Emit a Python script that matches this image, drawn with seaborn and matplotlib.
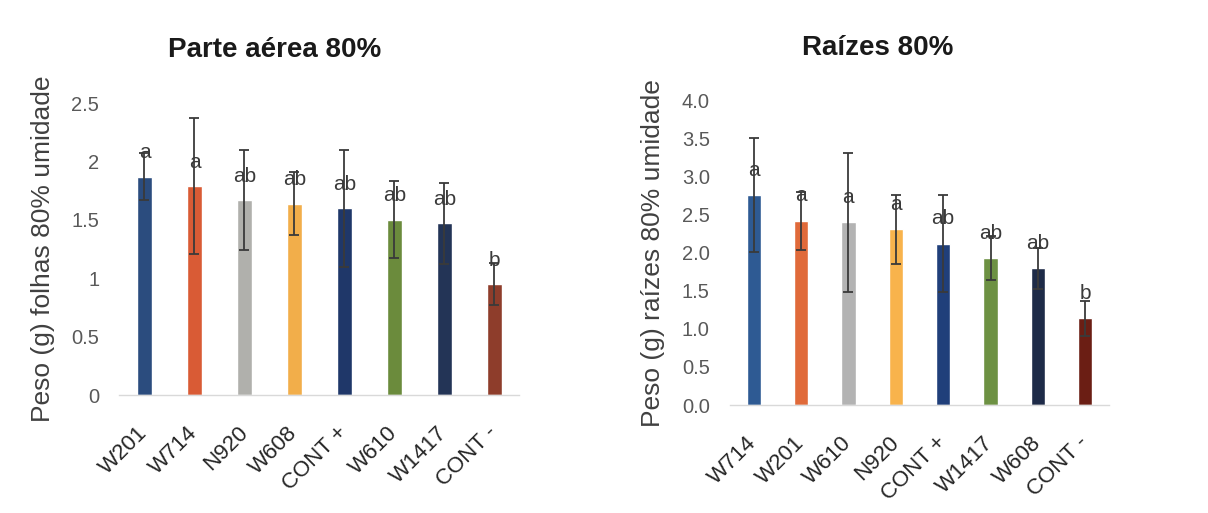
import matplotlib
matplotlib.use("Agg")
import matplotlib.pyplot as plt
import seaborn as sns
import pandas as pd
import numpy as np

# Shoot (parte aérea) dry weight at 80% moisture
shoot_labels = ["W201", "W714", "N920", "W608", "CONT +", "W610", "W1417", "CONT -"]
shoot_means = [1.87, 1.79, 1.67, 1.64, 1.60, 1.50, 1.47, 0.95]
shoot_err = [0.20, 0.58, 0.43, 0.27, 0.50, 0.33, 0.35, 0.18]
shoot_letters = ["a", "a", "ab", "ab", "ab", "ab", "ab", "b"]
shoot_colors = ["#2B4C7E", "#D95B35", "#B0B0AC", "#F2AE4A",
                "#1F3769", "#6B8B3C", "#233456", "#8E3D2B"]

# Root (raízes) dry weight at 80% moisture
root_labels = ["W714", "W201", "W610", "N920", "CONT +", "W1417", "W608", "CONT -"]
root_means = [2.76, 2.42, 2.40, 2.31, 2.12, 1.93, 1.80, 1.14]
root_err = [0.75, 0.38, 0.92, 0.45, 0.64, 0.29, 0.27, 0.23]
root_letters = ["a", "a", "a", "a", "ab", "ab", "ab", "b"]
root_colors = ["#2E5A93", "#E06A3A", "#B3B3B3", "#F8B34C",
               "#203F7A", "#6D9143", "#1E2B48", "#6B1E14"]

sns.set_theme(style="white")
plt.rcParams["font.family"] = ["Liberation Sans", "DejaVu Sans"]

fig = plt.figure(figsize=(12.08, 5.13), dpi=100)
ax1 = fig.add_axes([0.0989, 0.230, 0.331, 0.569])
ax2 = fig.add_axes([0.6043, 0.2105, 0.3137, 0.593])


def draw(ax, labels, means, errs, letters, colors, ylim, ticks, ticklabels,
         ylabel, letter_offset):
    df = pd.DataFrame({"cat": labels, "val": means})
    sns.barplot(data=df, x="cat", y="val", hue="cat", palette=colors,
                order=labels, hue_order=labels, dodge=False, width=0.3,
                legend=False, ax=ax, errorbar=None, saturation=1)
    x = np.arange(len(labels))
    ax.errorbar(x, means, yerr=errs, fmt="none", ecolor="#3a3a3a",
                elinewidth=1.3, capsize=3.6, capthick=1.3, zorder=3)
    for xi, m, t in zip(x, means, letters):
        ax.text(xi, m + letter_offset, t, ha="center", va="center",
                fontsize=15, color="#3a3a3a", zorder=4)
    ax.set_xlim(-0.5, len(labels) - 0.5)
    ax.set_ylim(*ylim)
    ax.set_yticks(ticks)
    ax.set_yticklabels(ticklabels)
    ax.tick_params(axis="y", length=0, pad=14.5, labelsize=14.5,
                   labelcolor="#595959")
    ax.tick_params(axis="x", length=0, pad=25, labelsize=16,
                   labelcolor="#262626")
    for lab in ax.get_xticklabels():
        lab.set_rotation(45)
        lab.set_ha("right")
        lab.set_va("center")
        lab.set_rotation_mode("anchor")
    for s in ["top", "right", "left"]:
        ax.spines[s].set_visible(False)
    ax.spines["bottom"].set_color("#d9d9d9")
    ax.spines["bottom"].set_linewidth(1.0)
    ax.set_xlabel("")
    ax.set_ylabel(ylabel, fontsize=19, color="#404040", labelpad=12)
    ax.grid(False)


draw(ax1, shoot_labels, shoot_means, shoot_err, shoot_letters, shoot_colors,
     (0, 2.5), [0, 0.5, 1, 1.5, 2, 2.5], ["0", "0.5", "1", "1.5", "2", "2.5"],
     "Peso (g) folhas 80% umidade", 0.205)
draw(ax2, root_labels, root_means, root_err, root_letters, root_colors,
     (0, 4.0), np.arange(0, 4.01, 0.5),
     [f"{v:.1f}" for v in np.arange(0, 4.01, 0.5)],
     "Peso (g) raízes 80% umidade", 0.33)

fig.text(275 / 1208, 1 - 50 / 513, "Parte aérea 80%", ha="center",
         va="center", fontsize=20, fontweight="bold", color="#1a1a1a")
fig.text(878 / 1208, 1 - 48 / 513, "Raízes 80%", ha="center",
         va="center", fontsize=20, fontweight="bold", color="#1a1a1a")

fig.savefig("out.png", dpi=100, facecolor="white")
